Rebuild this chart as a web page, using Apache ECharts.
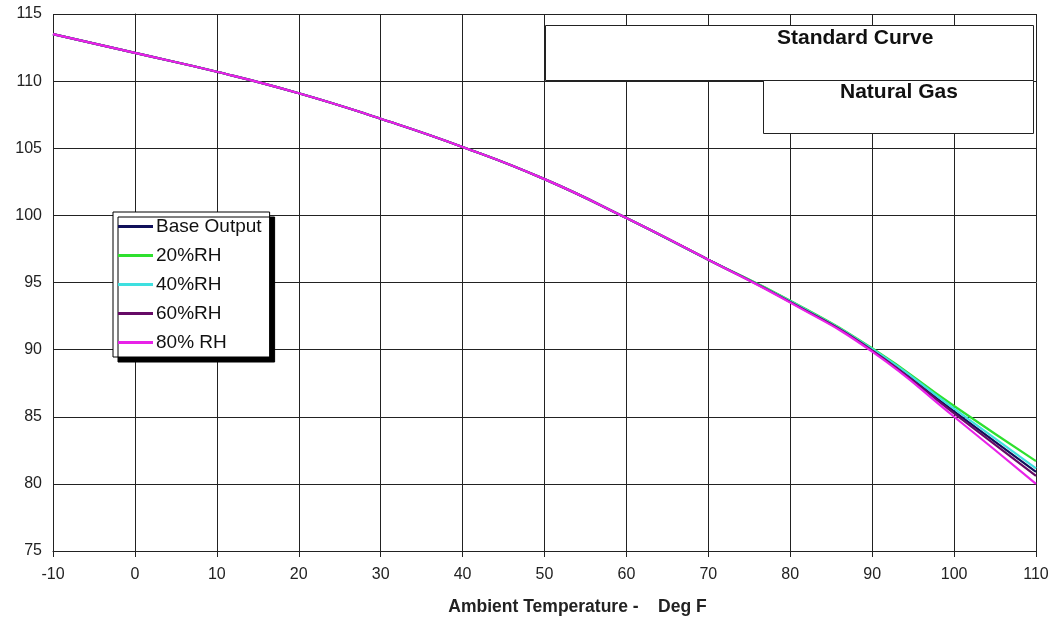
<!DOCTYPE html>
<html>
<head>
<meta charset="utf-8">
<script src="https://cdn.jsdelivr.net/npm/echarts@6/dist/echarts.min.js"></script>
<style>
html,body{margin:0;padding:0;background:#fff;}
#chart{width:1052px;height:617px;}
</style>
</head>
<body>
<div id="chart"></div>
<script>
var temps = [-10, 0, 10, 20, 30, 40, 50, 60, 70, 80, 90, 100, 110];
var baseOutput = [113.5, 112.1, 110.7, 109.1, 107.2, 105.1, 102.7, 99.8, 96.7, 93.6, 90.0, 85.4, 80.9];
var rh20 = [113.5, 112.1, 110.7, 109.1, 107.2, 105.1, 102.7, 99.8, 96.7, 93.65, 90.1, 85.8, 81.7];
var rh40 = [113.5, 112.1, 110.7, 109.1, 107.2, 105.1, 102.7, 99.8, 96.7, 93.6, 90.05, 85.6, 81.15];
var rh60 = [113.5, 112.1, 110.7, 109.1, 107.2, 105.1, 102.7, 99.8, 96.7, 93.55, 89.95, 85.25, 80.6];
var rh80 = [113.5, 112.1, 110.7, 109.1, 107.2, 105.1, 102.7, 99.8, 96.7, 93.5, 89.85, 85.0, 80.0];
var seriesNames = ['Base Output', '20%RH', '40%RH', '60%RH', '80% RH'];
var seriesColors = ['#10105a', '#2ee02e', '#3ee0e0', '#660a66', '#e822e8'];
var seriesValues = [baseOutput, rh20, rh40, rh60, rh80];

function pairs(vals) {
  return temps.map(function (t, i) { return [t, vals[i]]; });
}

var chart = echarts.init(document.getElementById('chart'));
var font = 'Liberation Sans, Arial, sans-serif';
chart.setOption({
  animation: false,
  backgroundColor: '#fff',
  grid: { left: 53, right: 16, top: 14, bottom: 66, containLabel: false, outerBoundsMode: 'none' },
  xAxis: {
    type: 'value', min: -10, max: 110, interval: 10,
    name: 'Ambient Temperature -    Deg F',
    nameLocation: 'middle', nameGap: 47,
    nameTextStyle: { fontFamily: font, fontSize: 17.5, fontWeight: 'bold', color: '#222', padding: [0, 0, 0, 66] },
    axisLine: { show: true, lineStyle: { color: '#222', width: 1 } },
    axisTick: { show: true, length: 6, lineStyle: { color: '#222' } },
    axisLabel: { fontFamily: font, fontSize: 16, color: '#222', margin: 16 },
    splitLine: { show: true, lineStyle: { color: '#222', width: 1 } }
  },
  yAxis: {
    type: 'value', min: 75, max: 115, interval: 5,
    axisLine: { show: true, lineStyle: { color: '#222', width: 1 } },
    axisTick: { show: true, length: 6, lineStyle: { color: '#222' } },
    axisLabel: { fontFamily: font, fontSize: 16, color: '#222', margin: 11 },
    splitLine: { show: true, lineStyle: { color: '#222', width: 1 } }
  },
  legend: {
    orient: 'vertical', left: 113, top: 212,
    padding: [5, 8, 5, 5],
    itemWidth: 35, itemHeight: 3, itemGap: 10,
    icon: 'rect',
    backgroundColor: '#fff', borderColor: '#000', borderWidth: 1,
    shadowColor: '#000', shadowBlur: 0, shadowOffsetX: 5, shadowOffsetY: 5,
    textStyle: { fontFamily: font, fontSize: 19, lineHeight: 18, color: '#111', padding: [0, 0, 0, -2] },
    data: seriesNames
  },
  graphic: [
    { type: 'rect', left: 545, top: 25, shape: { width: 488, height: 55 }, style: { fill: '#fff', stroke: '#222', lineWidth: 1 }, z: 10 },
    { type: 'text', left: 777, top: 28, style: { text: 'Standard Curve', font: 'bold 21px ' + font, fill: '#111' }, z: 11 },
    { type: 'rect', left: 763, top: 80, shape: { width: 270, height: 53 }, style: { fill: '#fff', stroke: '#222', lineWidth: 1 }, z: 10 },
    { type: 'text', left: 840, top: 82, style: { text: 'Natural Gas', font: 'bold 21px ' + font, fill: '#111' }, z: 11 }
  ],
  series: seriesNames.map(function (n, i) {
    return {
      name: n, type: 'line', data: pairs(seriesValues[i]),
      symbol: 'none', smooth: 0.5,
      lineStyle: { color: seriesColors[i], width: 2.2 },
      itemStyle: { color: seriesColors[i] },
      z: 3 + i
    };
  })
});
</script>
</body>
</html>
